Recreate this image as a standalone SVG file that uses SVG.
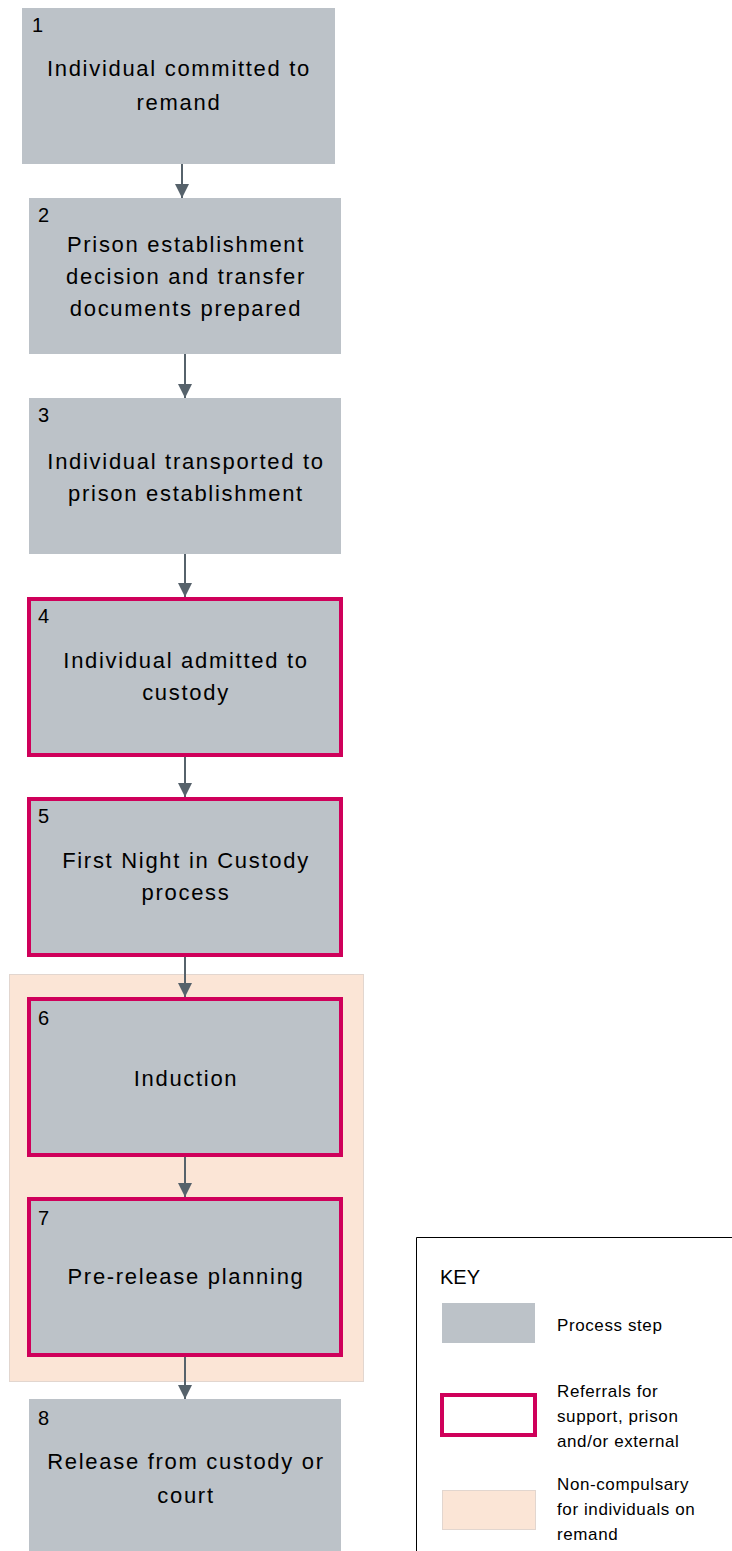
<svg xmlns="http://www.w3.org/2000/svg" width="732" height="1551" viewBox="0 0 732 1551">
<style>
.step{fill:#bcc2c8;}
.ref{fill:#bcc2c8;stroke:#cf005a;stroke-width:4;}
.t{font-family:"Liberation Sans",Arial,sans-serif;font-size:22px;letter-spacing:1.7px;fill:#000;text-anchor:middle;}
.n{font-family:"Liberation Sans",Arial,sans-serif;font-size:20px;fill:#000;}
.k{font-family:"Liberation Sans",Arial,sans-serif;font-size:17px;letter-spacing:0.6px;fill:#000;}
.c{stroke:#56626b;stroke-width:2;fill:none;marker-end:url(#ah);}
</style>
<defs>
<marker id="ah" markerWidth="14" markerHeight="15" refX="14" refY="7" orient="auto" markerUnits="userSpaceOnUse">
<path d="M0,0 L14,7 L0,14 Z" fill="#56626b"/>
</marker>
</defs>
<rect width="732" height="1551" fill="#fff"/>
<g id="noncompulsory-bg">
<rect x="9.5" y="974.5" width="354" height="407" fill="#fbe5d6" stroke="#e2d6cf" stroke-width="1"/>
</g>
<g id="node1">
<rect class="step" x="22" y="8" width="313" height="156"/>
<text class="n" x="32" y="32">1</text>
<text class="t" x="179" y="76">Individual committed to</text>
<text class="t" x="179" y="110">remand</text>
</g>
<g id="node2">
<rect class="step" x="29" y="198" width="312" height="156"/>
<text class="n" x="38" y="222">2</text>
<text class="t" x="186" y="252">Prison establishment</text>
<text class="t" x="186" y="284">decision and transfer</text>
<text class="t" x="186" y="316">documents prepared</text>
</g>
<g id="node3">
<rect class="step" x="29" y="398" width="312" height="156"/>
<text class="n" x="38" y="422">3</text>
<text class="t" x="186" y="469">Individual transported to</text>
<text class="t" x="186" y="501">prison establishment</text>
</g>
<g id="node4">
<rect class="ref" x="29" y="599" width="312" height="156"/>
<text class="n" x="38" y="623">4</text>
<text class="t" x="186" y="668">Individual admitted to</text>
<text class="t" x="186" y="700">custody</text>
</g>
<g id="node5">
<rect class="ref" x="29" y="799" width="312" height="156"/>
<text class="n" x="38" y="823">5</text>
<text class="t" x="186" y="868">First Night in Custody</text>
<text class="t" x="186" y="900">process</text>
</g>
<g id="node6">
<rect class="ref" x="29" y="999" width="312" height="156"/>
<text class="n" x="38" y="1025">6</text>
<text class="t" x="186" y="1086">Induction</text>
</g>
<g id="node7">
<rect class="ref" x="29" y="1199" width="312" height="156"/>
<text class="n" x="38" y="1225">7</text>
<text class="t" x="186" y="1284">Pre-release planning</text>
</g>
<g id="node8">
<rect class="step" x="29" y="1399" width="312" height="152"/>
<text class="n" x="38" y="1425">8</text>
<text class="t" x="186" y="1469">Release from custody or</text>
<text class="t" x="186" y="1503">court</text>
</g>
<g id="connectors">
<line class="c" x1="182" y1="164" x2="182" y2="198"/>
<line class="c" x1="185" y1="354" x2="185" y2="398"/>
<line class="c" x1="185" y1="554" x2="185" y2="597"/>
<line class="c" x1="185" y1="757" x2="185" y2="797"/>
<line class="c" x1="185" y1="957" x2="185" y2="997"/>
<line class="c" x1="185" y1="1157" x2="185" y2="1197"/>
<line class="c" x1="185" y1="1357" x2="185" y2="1399"/>
</g>
<g id="key">
<polyline points="732,1237.5 416.5,1237.5 416.5,1551" fill="none" stroke="#000" stroke-width="1"/>
<text class="n" x="440" y="1284" style="font-size:20px">KEY</text>
<rect x="442" y="1303" width="93" height="40" fill="#bcc2c8"/>
<text class="k" x="557" y="1331">Process step</text>
<rect x="442" y="1395" width="93" height="40" fill="#fff" stroke="#cf005a" stroke-width="4"/>
<text class="k" x="557" y="1397">Referrals for</text>
<text class="k" x="557" y="1422">support, prison</text>
<text class="k" x="557" y="1447">and/or external</text>
<rect x="442.5" y="1490.5" width="93" height="39" fill="#fbe5d6" stroke="#e2d6cf" stroke-width="1"/>
<text class="k" x="557" y="1490">Non-compulsary</text>
<text class="k" x="557" y="1515">for individuals on</text>
<text class="k" x="557" y="1540">remand</text>
</g>
</svg>
